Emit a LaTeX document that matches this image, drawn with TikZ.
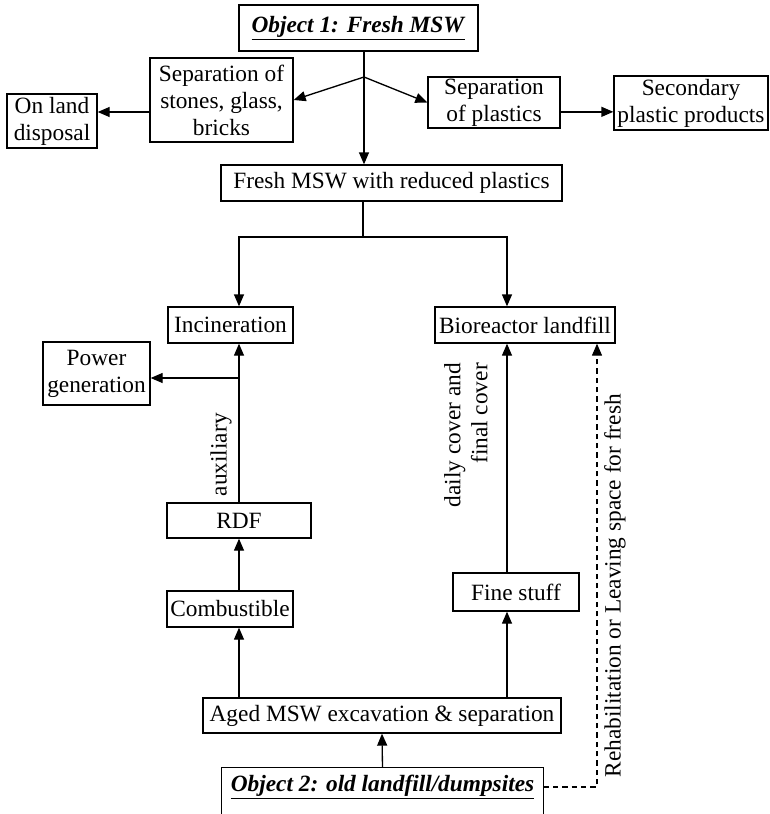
\documentclass[tikz,border=0pt]{standalone}
\usepackage{fontspec}
\setmainfont{Liberation Serif}
\usepackage{tikz}
\usetikzlibrary{arrows.meta, positioning, calc}

\begin{document}
\begin{tikzpicture}[
    x=0.75pt, y=-0.75pt,
    block/.style={rectangle, draw, line width=1pt, inner sep=1pt, align=center, font=\fontsize{17.5}{20.25}\selectfont},
    line/.style={draw, -{Triangle[length=9pt, width=7.5pt]}, line width=1pt},
    plainline/.style={draw, line width=1pt},
    dashedline/.style={draw, -{Triangle[length=9pt, width=7.5pt]}, line width=0.9pt, dash pattern=on 4pt off 3pt},
    note/.style={font=\fontsize{17.5}{20.25}\selectfont, rotate=90}
]
    \useasboundingbox (0,0) rectangle (770,814);

    \node [block, minimum width=179.25pt, minimum height=34.5pt] (obj1) at (358.5,28) {\underline{\textbf{\textit{Object 1: Fresh MSW}}}};
    \node [block, minimum width=107.25pt, minimum height=63pt] (stones) at (221.5,100) {Separation of\\stones, glass,\\bricks};
    \node [block, minimum width=67.5pt, minimum height=40.5pt] (disposal) at (52,121) {On land\\disposal};
    \node [block, minimum width=99pt, minimum height=38.25pt] (plastics) at (494,102.5) {Separation\\of plastics};
    \node [block, minimum width=115.5pt, minimum height=40.5pt] (secondary) at (691,103) {Secondary\\plastic products};
    \node [block, minimum width=255.75pt, minimum height=27pt] (fresh) at (391.5,183) {Fresh MSW with reduced plastics};

    \node [block, minimum width=93.75pt, minimum height=27pt] (incin) at (230.5,325) {Incineration};
    \node [block, minimum width=135pt, minimum height=27pt] (bio) at (525,325) {Bioreactor landfill};
    \node [block, minimum width=80.25pt, minimum height=47.25pt] (power) at (96.5,373.5) {Power\\generation};
    \node [block, minimum width=108pt, minimum height=26.25pt] (rdf) at (239,520.5) {RDF};
    \node [block, minimum width=94.5pt, minimum height=27pt] (comb) at (230,609) {Combustible};
    \node [block, minimum width=94.5pt, minimum height=28.5pt] (fine) at (516,592) {Fine stuff};
    \node [block, minimum width=268.5pt, minimum height=26.25pt] (aged) at (382,715.5) {Aged MSW excavation \& separation};
    \node [block, draw=none, minimum width=240.75pt, minimum height=28.5pt] (obj2) at (382.5,787) {\underline{\textbf{\textit{Object 2: old landfill/dumpsites}}}};
    \draw [plainline] (obj2.west |- 0,814) -- (obj2.north west) -- (obj2.north east) -- (obj2.east |- 0,814);

    \coordinate (split) at (364,77);
    \coordinate (fork) at (363,237);
    \coordinate (forkl) at (239,237);
    \coordinate (forkr) at (507,237);
    \coordinate (pwr) at (239,378);
    \coordinate (dcorner) at (597,787);

    \draw [plainline] (obj1.south -| split) -- (split);
    \draw [line] (split) -- (stones.east);
    \draw [line] (split) -- (plastics.west);
    \draw [line] (split) -- (split |- fresh.north);
    \draw [line] ([yshift=6.75pt]disposal.east -| stones.west) -- ([yshift=6.75pt]disposal.east);
    \draw [line] ([yshift=-7pt]plastics.east) -- ([yshift=-7pt]plastics.east -| secondary.west);

    \draw [plainline] (fresh.south -| fork) -- (fork);
    \draw [line] (fork) -- (forkl) -- (forkl |- incin.north);
    \draw [line] (fork) -- (forkr) -- (forkr |- bio.north);

    \draw [line] (rdf.north -| forkl) -- node[note, pos=0.3, anchor=south, inner ysep=5pt] {auxiliary} (forkl |- incin.south);
    \draw [line] (pwr) -- (pwr -| power.east);
    \draw [line] (comb.north -| forkl) -- (forkl |- rdf.south);
    \draw [line] (aged.north -| forkl) -- (forkl |- comb.south);

    \draw [line] (aged.north -| forkr) -- (forkr |- fine.south);
    \draw [line] (fine.north -| forkr) -- node[note, pos=0.6, anchor=south, align=right, inner ysep=14pt] {daily cover and\\final cover} (forkr |- bio.south);

    \draw [line] (obj2.north) -- (aged.south);
    \draw [dashedline] (obj2.east) -- (dcorner) -- node[note, pos=0.454, anchor=north, inner ysep=5pt] {Rehabilitation or Leaving space for fresh} (dcorner |- bio.south);

\end{tikzpicture}
\end{document}
